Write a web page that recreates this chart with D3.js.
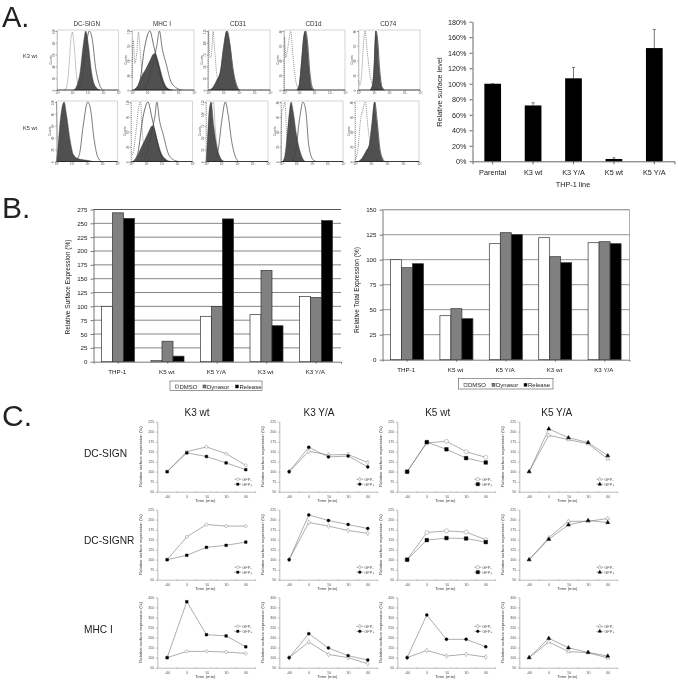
<!DOCTYPE html>
<html><head><meta charset="utf-8">
<script src="https://cdn.jsdelivr.net/npm/d3@7"></script>
<style>html,body{margin:0;padding:0;background:#fff}svg{display:block;filter:blur(0.3px)}text{font-family:"Liberation Sans",Arial,sans-serif;fill:#222}</style>
</head><body><svg id="c" width="678" height="684"></svg>
<script>
// ---------- Panel A: histograms ([decade, % of max] outlines)
const histMarkers=["DC-SIGN","MHC I","CD31","CD1d","CD74"];
const histRows=["K3 wt","K5 wt"];
const histCountTicks=[[0,20,40,60,80,100],[0,30,60,90,120],[0,25,50,75,100,125],[0,20,40,60,80],[0,20,40,60,80]];
const histFilled=[
 [[[1.1,0],[1.3,8],[1.5,30],[1.7,75],[1.87,100],[2.05,75],[2.25,30],[2.5,6],[2.8,0]],
  [[.1,0],[.4,8],[.6,22],[.9,36],[1.2,52],[1.35,60],[1.5,62],[1.65,52],[1.85,32],[2.05,14],[2.3,3],[2.6,0]],
  [[.1,0],[.35,6],[.55,16],[.8,32],[1,70],[1.2,100],[1.4,80],[1.6,35],[1.85,6],[2,0]],
  [[.85,0],[1,10],[1.15,50],[1.3,92],[1.38,100],[1.5,85],[1.65,35],[1.8,5],[1.95,0]],
  [[.75,0],[.9,8],[1,35],[1.12,100],[1.22,85],[1.35,35],[1.5,6],[1.65,0]]],
 [[[0,0],[.1,25],[.25,70],[.5,100],[.65,80],[.9,35],[1.1,12],[1.4,5],[2,2],[2.4,0]],
  [[.1,0],[.35,6],[.6,20],[.9,36],[1.15,50],[1.3,58],[1.42,60],[1.55,52],[1.75,32],[1.95,15],[2.3,3],[2.6,0]],
  [[.02,0],[.1,40],[.2,85],[.33,100],[.5,60],[.7,25],[.9,8],[1.15,0]],
  [[.1,0],[.25,10],[.45,60],[.65,100],[.8,82],[1,45],[1.2,20],[1.4,5],[1.55,0]],
  [[.2,0],[.45,6],[.7,18],[.9,28],[1.05,60],[1.22,100],[1.35,70],[1.55,18],[1.8,0]]]];
const histSolid=[
 [[[1.3,0],[1.6,15],[1.85,65],[2.1,100],[2.3,85],[2.5,40],[2.75,10],[3,0]],
  [[.8,0],[1.05,15],[1.35,45],[1.6,75],[1.77,100],[1.95,70],[2.2,45],[2.5,15],[2.9,3],[3.2,0]],
  [[.2,0],[.5,10],[.8,30],[1,72],[1.24,100],[1.42,75],[1.65,30],[1.9,5],[2.05,0]],
  [[.85,0],[1,8],[1.15,45],[1.3,90],[1.42,100],[1.55,80],[1.7,30],[1.85,5],[2,0]],
  [[.75,0],[.9,6],[1,30],[1.14,100],[1.25,85],[1.38,35],[1.52,6],[1.7,0]]],
 [[[1.2,0],[1.5,12],[1.75,60],[2.05,100],[2.25,85],[2.45,40],[2.7,8],[2.95,0]],
  [[.8,0],[1.05,15],[1.3,45],[1.55,75],[1.68,100],[1.85,70],[2.1,45],[2.4,15],[2.75,3],[3.1,0]],
  [[.5,0],[.8,22],[1,65],[1.25,100],[1.42,80],[1.65,35],[1.9,8],[2.1,0]],
  [[.7,0],[.95,18],[1.2,72],[1.42,100],[1.6,85],[1.8,25],[2.1,2],[2.3,0]],
  [[.3,0],[.5,6],[.75,18],[.9,28],[1.05,60],[1.24,100],[1.38,70],[1.58,18],[1.85,0]]]];
const histSolid2=[[null,[[.2,2],[.5,15],[.8,70],[1.15,100],[1.4,75],[1.7,40],[2,10],[2.4,0]],null,null,null],
 [null,[[.2,2],[.45,15],[.75,70],[1.1,100],[1.35,75],[1.65,40],[1.95,10],[2.3,0]],null,null,null]];
const histDotted=[
 [[[.45,0],[.6,3],[.75,30],[.9,85],[1,98],[1.1,80],[1.25,30],[1.45,3],[1.7,0]],
  [[0,20],[.08,85],[.18,45],[.3,60],[.42,98],[.52,70],[.65,30],[.9,5],[1.2,0]],
  [[0,0],[.03,100],[.1,60],[.2,55],[.33,100],[.42,70],[.6,20],[.8,3],[1.1,0]],
  [[0,0],[.03,90],[.12,55],[.3,80],[.44,100],[.58,60],[.72,25],[.9,4],[1.2,0]],
  [[0,16],[.1,8],[.2,25],[.33,80],[.43,100],[.55,70],[.75,25],[1,6],[1.3,0]]],
 [[[0,100],[.04,60],[.12,10],[.3,0]],
  [[0,15],[.1,12],[.3,45],[.5,92],[.62,100],[.72,55],[.9,18],[1.2,3],[1.5,0]],
  [[0,0],[.1,30],[.3,90],[.48,100],[.6,55],[.75,18],[1,2],[1.2,0]],
  [[0,0],[.05,85],[.15,90],[.25,100],[.35,55],[.55,20],[.8,3],[1.1,0]],
  [[0,2],[.15,15],[.35,70],[.52,90],[.65,100],[.8,60],[1,22],[1.3,4],[1.6,0]]]];
// ---------- Panel A: bar chart
const surfaceCats=["Parental","K3 wt","K3 Y/A","K5 wt","K5 Y/A"];
const surfaceValues=[100,72,107,3,146];
const surfaceErrTop=[100,75.5,121,4.5,170];
const surfaceTicks=[0,20,40,60,80,100,120,140,160,180];
// ---------- Panel B
const treatCats=["THP-1","K5 wt","K5 Y/A","K3 wt","K3 Y/A"];
const treatments=["DMSO","Dynasor","Release"];
const treatColors=["#ffffff","#808080","#000000"];
const surfDMSO=[100,2,82,85,118], surfDyn=[269,37,100,165,116], surfRel=[259,10,258,65,255];
const totDMSO=[100,44,116,122,117], totDyn=[92,51,127,103,118], totRel=[96,41,125,97,116];
const surfTicks=d3.range(0,276,25), totTicks=d3.range(0,151,25);
// ---------- Panel C
const timeCats=["-60","0","10","30","60"];
const cols=["K3 wt","K3 Y/A","K5 wt","K5 Y/A"];
const rowNames=["DC-SIGN","DC-SIGNR","MHC I"];
const smallTicks=[50,75,100,125,150,175,200,225];
const mhcTicks=[50,100,150,200,250,300,350,400];
const gfpMinus=[
 [[100,150,162,145,116],[100,151,142,143,123],[100,172,176,150,136],[100,191,180,170,132]],
 [[100,157,188,184,184],[100,193,184,173,166],[100,168,172,169,150],[100,155,196,196,203]],
 [[100,131,131,128,121],[100,178,116,100,70],[100,136,108,117,103],[100,178,130,125,98]]];
const gfpPlus=[
 [[100,147,138,122,105],[100,161,137,139,112],[100,174,156,134,123],[100,207,185,173,140]],
 [[100,111,131,136,144],[100,212,198,188,178],[100,149,154,153,144],[100,151,187,198,193]],
 [[100,378,214,208,154],[100,219,148,110,88],[100,312,191,191,154],[100,196,149,126,108]]];
const markerMinus=[[d3.symbolCircle,d3.symbolDiamond,d3.symbolCircle,d3.symbolTriangle],
 [d3.symbolCircle,d3.symbolDiamond,d3.symbolCircle,d3.symbolTriangle],
 [d3.symbolCircle,d3.symbolDiamond,d3.symbolDiamond,d3.symbolTriangle]];
const markerPlus=[[d3.symbolSquare,d3.symbolCircle,d3.symbolSquare,d3.symbolTriangle],
 [d3.symbolSquare,d3.symbolCircle,d3.symbolSquare,d3.symbolTriangle],
 [d3.symbolSquare,d3.symbolCircle,d3.symbolCircle,d3.symbolTriangle]];

const svg=d3.select("#c");
const T=(x,y,s,fs,anc="middle",rot=null,col=null)=>{const t=svg.append("text").attr("x",x).attr("y",y).attr("font-size",fs).attr("text-anchor",anc).text(s);
 if(rot!==null)t.attr("transform",`rotate(${rot},${x},${y})`); if(col)t.style("fill",col); return t;};
T(2,26.5,"A.",29,"start");T(2,218,"B.",30,"start");T(2,426,"C.",30,"start");

// histogram panels
const hx=[[57,118.5],[132,194],[208,270],[284,345],[358.5,420]];
const hx2=[[56.5,117.5],[131,192.5],[206,268],[281,343],[355,419]];
const hy=[[30,90],[101,161.5]];
histMarkers.forEach((m,i)=>T((hx[i][0]+hx[i][1])/2-1,26,m,6.3).style("fill","#333"));
histRows.forEach((r,i)=>T(30,i?129.5:58,r,5.6).style("fill","#333"));
histRows.forEach((row,r)=>histMarkers.forEach((mk,c)=>{
 const X=(r?hx2:hx)[c],x=d3.scaleLinear().domain([0,4]).range(X),y=d3.scaleLinear().domain([0,100]).range([hy[r][1],hy[r][0]+1]);
 const g=svg.append("g");
 g.append("path").attr("d",`M${X[0]},${hy[r][1]}V${hy[r][0]}H${X[1]}V${hy[r][1]}`).attr("fill","none").attr("stroke","#bbb").attr("stroke-width",.6);
 const ln=d3.line().x(d=>x(d[0])).y(d=>y(d[1])).curve(d3.curveMonotoneX);
 const ar=d3.area().x(d=>x(d[0])).y0(y(0)).y1(d=>y(d[1])).curve(d3.curveMonotoneX);
 g.append("path").attr("d",ar(histFilled[r][c])).attr("fill","#505050").attr("stroke","#333").attr("stroke-width",.4);
 g.append("path").attr("d",ln(histSolid[r][c])).attr("fill","none").attr("stroke","#444").attr("stroke-width",.7);
 if(histSolid2[r][c])g.append("path").attr("d",ln(histSolid2[r][c])).attr("fill","none").attr("stroke","#333").attr("stroke-width",.7);
 g.append("path").attr("d",ln(histDotted[r][c])).attr("fill","none").attr("stroke","#444").attr("stroke-width",.6).attr("stroke-dasharray","1 1");
 g.append("line").attr("x1",X[0]).attr("x2",X[1]).attr("y1",hy[r][1]).attr("y2",hy[r][1]).attr("stroke","#222").attr("stroke-width",.9);
 const ax=d3.axisBottom(x).tickValues([0,1,2,3,4]).tickSize(1.5).tickFormat(d=>"10"+"⁰¹²³⁴"[d]);
 const a=g.append("g").attr("transform",`translate(0,${hy[r][1]})`).call(ax);a.select(".domain").remove();
 a.selectAll("line").attr("stroke","#444").attr("stroke-width",.4);a.selectAll("text").attr("font-size",3).attr("dy",-.6).attr("font-family",null).style("fill","#555");
 const ticks=histCountTicks[c],yt=d3.scaleLinear().domain([0,d3.max(ticks)]).range([hy[r][1],hy[r][0]+1]);
 const b=g.append("g").attr("transform",`translate(${X[0]},0)`).call(d3.axisLeft(yt).tickValues(ticks).tickSize(1.5));b.select(".domain").attr("stroke","#666").attr("stroke-width",.5).attr("stroke-dasharray","1 1");
 b.selectAll("line").attr("stroke","#444").attr("stroke-width",.4);
 b.selectAll("text").attr("font-size",3).attr("transform","rotate(-90)").attr("x",0).attr("y",-2.4).attr("dy",0).attr("text-anchor","middle").style("fill","#555");
 T(X[0]-5.5,(hy[r][0]+hy[r][1])/2,"Counts",3,"middle",-90,"#555");
}));

// surface level bar chart
{const x=d3.scaleBand().domain(surfaceCats).range([472.5,674.5]),y=d3.scaleLinear().domain([0,180]).range([161.3,21.7]);
 const ax=svg.append("g").attr("transform","translate(0,161.3)").call(d3.axisBottom(x).tickSize(3).tickSizeOuter(3).tickFormat(""));
 const ay=svg.append("g").attr("transform","translate(472.5,0)").call(d3.axisLeft(y).tickValues(surfaceTicks).tickSize(3).tickSizeOuter(0).tickFormat(d=>d+"%"));
 [ax,ay].forEach(a=>{a.selectAll("path,line").attr("stroke","#444").attr("stroke-width",.8);a.selectAll("text").attr("font-size",7.2).attr("font-family",null)});
 const bw=16.7;
 surfaceCats.forEach((c,i)=>{const cx=x(c)+x.bandwidth()/2;
  svg.append("line").attr("x1",cx).attr("x2",cx).attr("y1",y(surfaceErrTop[i])).attr("y2",y(surfaceValues[i])).attr("stroke","#555").attr("stroke-width",.8);
  svg.append("line").attr("x1",cx-1.5).attr("x2",cx+1.5).attr("y1",y(surfaceErrTop[i])).attr("y2",y(surfaceErrTop[i])).attr("stroke","#555").attr("stroke-width",.8);
  svg.append("rect").attr("x",cx-bw/2).attr("width",bw).attr("y",y(surfaceValues[i])).attr("height",y(0)-y(surfaceValues[i])).attr("fill","#000");
  T(cx,174.5,c,7.3);
 });
 T(573,186.5,"THP-1 line",7.3);T(442,92,"Relative surface level",7.3,"middle",-90);
}

// panel B
function barPanel(x0,x1,yTop,yBot,maxV,ticks,series,band0,ylabX,ylabY,ylab,legX,legY,legBox,gridCol){
 const x=d3.scaleBand().domain(treatCats).range([x0,x1]),y=d3.scaleLinear().domain([0,maxV]).range([yBot,yTop]);
 svg.append("g").selectAll("line").data(ticks.filter(d=>d>0)).join("line").attr("x1",x0).attr("x2",x1).attr("y1",d=>y(d)).attr("y2",d=>y(d)).attr("stroke",gridCol).attr("stroke-width",.8);
 const inner=d3.scaleBand().domain(treatments).range([0,33]);
 treatCats.forEach((c,i)=>treatments.forEach((t,j)=>{
  svg.append("rect").attr("x",x(c)+band0+inner(t)).attr("width",inner.bandwidth()).attr("y",y(series[j][i])).attr("height",yBot-y(series[j][i])).attr("fill",treatColors[j]).attr("stroke","#333").attr("stroke-width",.7);
  if(j==0)T(x(c)+x.bandwidth()/2-1,yBot+12,c,6.2);
 }));
 const ax=svg.append("g").attr("transform",`translate(0,${yBot})`).call(d3.axisBottom(x).tickSize(2).tickFormat(""));
 const ay=svg.append("g").attr("transform",`translate(${x0},0)`).call(d3.axisLeft(y).tickValues(ticks).tickSize(3).tickSizeOuter(0));
 [ax,ay].forEach(a=>{a.selectAll("path,line").attr("stroke","#555").attr("stroke-width",.8);a.selectAll("text").attr("font-size",6.2).attr("font-family",null)});
 T(ylabX,ylabY,ylab,6.6,"middle",-90);
 svg.append("rect").attr("x",legBox[0]).attr("y",legBox[1]).attr("width",legBox[2]).attr("height",legBox[3]).attr("fill","#fff").attr("stroke","#555").attr("stroke-width",.6);
 treatments.forEach((t,j)=>{svg.append("rect").attr("x",legX[j]).attr("y",legY-1.7).attr("width",3).attr("height",3).attr("fill",treatColors[j]).attr("stroke","#333").attr("stroke-width",.5);
  T(legX[j]+4,legY+2,t,6,"start");});
}
barPanel(93.5,341,209.5,361.7,275,surfTicks,[surfDMSO,surfDyn,surfRel],8,70,287,"Relative Surface Expression (%)",[175.5,203,235.5],386.7,[170,381,92,9.5],"#666");
svg.append("line").attr("x1",93.5).attr("x2",341).attr("y1",209.5).attr("y2",209.5).attr("stroke","#555");
barPanel(382.5,629.5,209.7,359.7,150,totTicks,[totDMSO,totDyn,totRel],8,359,290,"Relative Total Expression (%)",[464,492,524],385,[458.5,378.5,94.5,10.5],"#777");
svg.append("path").attr("d","M382.5,209.7H629.5V359.7").attr("fill","none").attr("stroke","#999").attr("stroke-width",.8);

// panel C
const colX=[157.3,279.3,397.3,519.3];
const rowY=[[421.7,491.7],[509.7,579.7],[597.3,667.7]];
const titleX=[197,319,437.7,556.7];
cols.forEach((c,i)=>T(titleX[i],416,c,10));
const rowLabelY=[456.5,544,633];
rowNames.forEach((r,i)=>T(84,rowLabelY[i],r,10.2,"start"));
rowNames.forEach((rn,r)=>cols.forEach((cn,c)=>{
 const L=colX[c],x=d3.scalePoint().domain(timeCats).range([L,L+98.3]).padding(.5);
 const isM=r==2,ticks=isM?mhcTicks:smallTicks;
 const y=d3.scaleLinear().domain(isM?[50,400]:[50,225]).range([rowY[r][1],rowY[r][0]]);
 const ax=svg.append("g").attr("transform",`translate(0,${rowY[r][1]})`).call(d3.axisBottom(x).tickSize(0).tickPadding(3.5));
 const step=x.step();
 svg.append("g").selectAll("line").data(d3.range(6)).join("line").attr("x1",d=>L+d*step).attr("x2",d=>L+d*step).attr("y1",rowY[r][1]).attr("y2",rowY[r][1]+1.2).attr("stroke","#777").attr("stroke-width",.4);
 const ay=svg.append("g").attr("transform",`translate(${L},0)`).call(d3.axisLeft(y).tickValues(ticks).tickSize(1.5).tickPadding(1.5).tickSizeOuter(0));
 [ax,ay].forEach(a=>{a.selectAll("path,line").attr("stroke","#777").attr("stroke-width",.5);a.selectAll("text").attr("font-size",3.6).attr("font-family",null).style("fill","#555")});
 T(L-15.5,(rowY[r][0]+rowY[r][1])/2,"Relative surface expression (%)",4.3,"middle",-90,"#444");
 T(L+48,rowY[r][1]+10.7,"Time (min)",4.3,"middle",null,"#444");
 const ln=d3.line().x((d,i)=>x(timeCats[i])).y(d=>y(d));
 const big=c==2&&r<2?13:7;
 [[gfpMinus,markerMinus,"#fff"],[gfpPlus,markerPlus,"#000"]].forEach(([data,mark,fill])=>{
  svg.append("path").attr("d",ln(data[r][c])).attr("fill","none").attr("stroke","#777").attr("stroke-width",.6);
  data[r][c].forEach((v,i)=>svg.append("path").attr("d",d3.symbol(mark[r][c],big)()).attr("transform",`translate(${x(timeCats[i])},${y(v)})`).attr("fill",fill).attr("stroke",fill=="#fff"?"#777":"#000").attr("stroke-width",.4));
 });
 const ly=rowY[r][0]+(isM?29:57.5);
 [["GFP-",markerMinus,"#fff"],["GFP+",markerPlus,"#000"]].forEach(([t,mark,fill],k)=>{
  const yy=ly+k*5,lx=L+77;
  svg.append("line").attr("x1",lx).attr("x2",lx+7).attr("y1",yy).attr("y2",yy).attr("stroke","#777").attr("stroke-width",.6);
  svg.append("path").attr("d",d3.symbol(mark[r][c],big*.8)()).attr("transform",`translate(${lx+3.5},${yy})`).attr("fill",fill).attr("stroke",fill=="#fff"?"#777":"#000").attr("stroke-width",.4);
  T(lx+8,yy+1.4,t,3.9,"start",null,"#555");
 });
}));
</script></body></html>
